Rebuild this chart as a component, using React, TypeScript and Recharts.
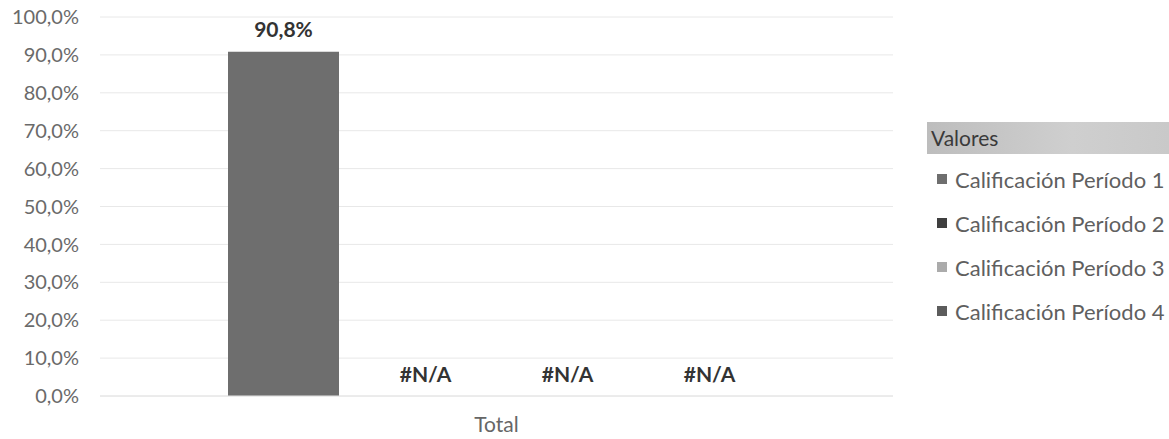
import { BarChart, Bar, XAxis, YAxis, CartesianGrid, LabelList } from 'recharts';

const categories = ['Total'];
const seriesNames = [
  'Calificación Período 1',
  'Calificación Período 2',
  'Calificación Período 3',
  'Calificación Período 4',
];
const periodo1: (number | null)[] = [0.908];
const periodo2: (number | null)[] = [null];
const periodo3: (number | null)[] = [null];
const periodo4: (number | null)[] = [null];
const yTicks = [0, 0.1, 0.2, 0.3, 0.4, 0.5, 0.6, 0.7, 0.8, 0.9, 1];

const seriesValues = [periodo1, periodo2, periodo3, periodo4];
const seriesColors = ['#6e6e6e', '#3f3f3f', '#ababab', '#5c5c5c'];
const keys = ['p1', 'p2', 'p3', 'p4'];

const BAR_SIZE = 111;
const BAR_GAP = 31;

const chartData = categories.map((name, i) => {
  const row: Record<string, string | number> = { name };
  keys.forEach((k, s) => {
    row[k] = seriesValues[s][i] ?? 0;
  });
  return row;
});

const FONT = 'Lato, "Noto Sans", sans-serif';

const pct = (v: number) => `${(v * 100).toFixed(1).replace('.', ',')}%`;

const labelText = (key: string, x: number, y: number, text: string) => (
  <text key={key} x={x} y={y} textAnchor="middle" dominantBaseline="central" fill="#333" fontSize={21} fontWeight={700} fontFamily={FONT}>
    {text}
  </text>
);

// recharts drops empty bars, so the first series' label also writes the
// #N/A of the slots beside it (one bar + gap further along each time)
const makeLabel = (s: number) => (props: any) => {
  const { x, y, width, height, index } = props;
  const v = seriesValues[s][index];
  if (v == null) return null;
  const bx = Number(x);
  const w = Number(width);
  const base = Number(y) + Number(height);
  const out = [labelText(`v${s}`, bx + w / 2, Number(y) - 23, pct(v))];
  if (s === 0) {
    seriesValues.forEach((vals, o) => {
      if (o > 0 && vals[index] == null) {
        out.push(labelText(`na${o}`, bx + o * (w + BAR_GAP) + w / 2, base - 23, '#N/A'));
      }
    });
  }
  return <g>{out}</g>;
};

const LegendBox = () => (
  <div style={{ position: 'absolute', left: 927, top: 122, width: 242, fontFamily: FONT }}>
    <div
      style={{
        height: 32,
        lineHeight: '32px',
        paddingLeft: 4,
        fontSize: 21,
        color: '#3a3a3a',
        background: 'linear-gradient(to right, #bdbdbd, #cfcfcf 60%, #c9c9c9)',
      }}
    >
      Valores
    </div>
    {seriesNames.map((n, i) => (
      <div
        key={n}
        style={{ position: 'absolute', top: 57 + i * 44 - 12, left: 10, height: 24, display: 'flex', alignItems: 'center', whiteSpace: 'nowrap' }}
      >
        <span style={{ width: 10, height: 10, background: seriesColors[i], display: 'inline-block', marginRight: 8 }} />
        <span style={{ fontSize: 22, color: '#5f5f5f' }}>{n}</span>
      </div>
    ))}
  </div>
);

export default function App() {
  return (
    <div style={{ position: 'absolute', left: 0, top: 0, width: 1169, height: 439, background: '#fff' }}>
      <BarChart
        width={1169}
        height={439}
        data={chartData}
        margin={{ top: 17, right: 276, bottom: 0, left: 0 }}
        barSize={BAR_SIZE}
        barGap={BAR_GAP}
      >
        <CartesianGrid vertical={false} stroke="#e8e8e8" />
        <XAxis
          dataKey="name"
          height={43}
          tickSize={0}
          tickMargin={21}
          axisLine={{ stroke: '#e4e4e4' }}
          tick={{ fill: '#666', fontSize: 21, fontFamily: FONT }}
        />
        <YAxis
          width={100}
          domain={[0, 1]}
          ticks={yTicks}
          tickFormatter={pct}
          tickSize={0}
          tickMargin={21}
          axisLine={false}
          tickLine={false}
          tick={{ fill: '#6a6a6a', fontSize: 20, fontFamily: FONT }}
        />
        {keys.map((k, s) => (
          <Bar key={k} dataKey={k} name={seriesNames[s]} fill={seriesColors[s]} isAnimationActive={false}>
            <LabelList dataKey={k} content={makeLabel(s)} />
          </Bar>
        ))}
      </BarChart>
      <LegendBox />
    </div>
  );
}
